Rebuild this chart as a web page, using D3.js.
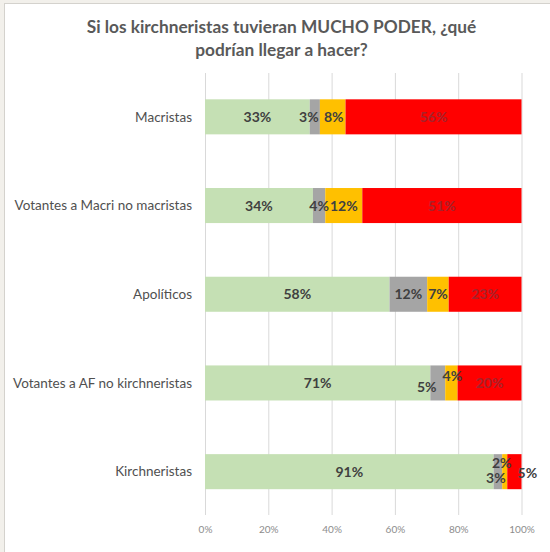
<!DOCTYPE html>
<html>
<head>
<meta charset="utf-8">
<script src="https://cdn.jsdelivr.net/npm/d3@7"></script>
<style>
  html, body { margin: 0; padding: 0; background: #fff; }
  svg { display: block; }
</style>
</head>
<body>
<svg id="chart" width="550" height="552"></svg>
<script>
// ---- Data ----
const categories = ["Macristas", "Votantes a Macri no macristas", "Apolíticos", "Votantes a AF no kirchneristas", "Kirchneristas"];
const seriesNames = ["s1", "s2", "s3", "s4"];
// segment shares
const series1 = [33.1, 34.1, 58.3, 71.2, 91.2];
const series2 = [3.2, 3.9, 11.9, 4.7, 2.7];
const series3 = [8.1, 11.7, 6.8, 3.9, 1.6];
const series4 = [55.6, 50.3, 23.0, 20.2, 4.5];
// data labels as printed
const labels1 = ["33%", "34%", "58%", "71%", "91%"];
const labels2 = ["3%", "4%", "12%", "5%", "3%"];
const labels3 = ["8%", "12%", "7%", "4%", "2%"];
const labels4 = ["56%", "51%", "23%", "20%", "5%"];
const tickValues = [0, 0.2, 0.4, 0.6, 0.8, 1.0];
const tickLabels = ["0%", "20%", "40%", "60%", "80%", "100%"];
const titleLines = ["Si los kirchneristas tuvieran MUCHO PODER, ¿qué", "podrían llegar a hacer?"];

// ---- Style ----
const colors = ["#c5e0b4", "#a5a5a5", "#ffc000", "#ff0000"];
const labelColors = ["#404040", "#404040", "#404040", "#a8222a"];
const FONT = "Lato, 'Open Sans', sans-serif";

const svg = d3.select("#chart");
const W = 550, H = 552;

// frame
svg.append("rect").attr("width", W).attr("height", H).attr("fill", "#f2f0eb");
svg.append("rect").attr("x", 4.5).attr("y", 3.5).attr("width", W).attr("height", H)
  .attr("fill", "#fff").attr("stroke", "#d4d2cd").attr("stroke-width", 1);

const rows = categories.map((c, i) => ({
  cat: c, s1: series1[i], s2: series2[i], s3: series3[i], s4: series4[i]
}));
const labelSets = [labels1, labels2, labels3, labels4];

const stack = d3.stack().keys(seriesNames).offset(d3.stackOffsetExpand);
const stacked = stack(rows);

const x = d3.scaleLinear().domain([0, 1]).range([205, 521.5]);
const y = d3.scaleBand().domain(categories).range([72.7, 515.8]).paddingInner(0.605).paddingOuter(0.3);

// gridlines via axis
const gridG = svg.append("g").attr("transform", "translate(0,73)");
gridG.call(d3.axisBottom(x).tickValues(tickValues).tickSize(442).tickFormat(""))
  .call(g => g.select(".domain").remove())
  .call(g => g.selectAll(".tick line").attr("stroke", "#d9d9d9").attr("stroke-width", 1));

// tick labels
const axG = svg.append("g").attr("transform", "translate(0,515)");
axG.call(d3.axisBottom(x).tickValues(tickValues).tickSize(0).tickPadding(8)
    .tickFormat((d, i) => tickLabels[i]))
  .call(g => g.select(".domain").remove())
  .call(g => g.selectAll("text").attr("fill", "#8c8c8c").attr("font-family", FONT)
    .attr("font-size", 10).attr("dy", "0.32em").attr("y", 15));

// bars
const layers = svg.append("g").selectAll("g").data(stacked).join("g")
  .attr("fill", (d, i) => colors[i]);
layers.selectAll("rect").data(d => d).join("rect")
  .attr("x", d => x(d[0]))
  .attr("width", d => x(d[1]) - x(d[0]))
  .attr("y", d => y(d.data.cat))
  .attr("height", y.bandwidth());

// label nudges (manual placement as in the reference)
const nudge = {
  "0|1": [-6, 0], "0|2": [1, 0],
  "3|1": [-11, 4], "3|2": [1, -7],
  "4|1": [-2, 6.5], "4|2": [-3, -9], "4|3": [13, 1.5]
};

stacked.forEach((layer, si) => {
  svg.append("g").selectAll("text").data(layer).join("text")
    .attr("x", (d, i) => (x(d[0]) + x(d[1])) / 2 + ((nudge[i + "|" + si] || [0, 0])[0]))
    .attr("y", (d, i) => y(d.data.cat) + y.bandwidth() / 2 + ((nudge[i + "|" + si] || [0, 0])[1]))
    .attr("dy", "0.36em")
    .attr("text-anchor", "middle")
    .attr("font-family", FONT).attr("font-weight", "bold").attr("font-size", 14)
    .attr("fill", (d, i) => (i === 4 && si === 3) ? "#404040" : labelColors[si])
    .text((d, i) => labelSets[si][i]);
});

// category labels
const catG = svg.append("g");
const catText = catG.selectAll("text").data(categories).join("text")
  .attr("x", 192)
  .attr("y", d => y(d) + y.bandwidth() / 2)
  .attr("dy", "0.35em")
  .attr("text-anchor", "end")
  .attr("font-family", FONT).attr("font-size", 13)
  .attr("fill", "#505050")
  .text(d => d);
// fit font size so the longest label spans the reference width
(function () {
  let maxW = 0;
  catText.each(function () { maxW = Math.max(maxW, this.getComputedTextLength()); });
  if (maxW > 0) catText.attr("font-size", 13 * 179 / maxW);
})();

// title
const titleText = svg.append("g").selectAll("text").data(titleLines).join("text")
  .attr("x", 281.5)
  .attr("y", (d, i) => [32.5, 55.5][i])
  .attr("text-anchor", "middle")
  .attr("font-family", FONT).attr("font-weight", "bold").attr("font-size", 18)
  .attr("fill", "#595959")
  .text(d => d);
(function () {
  const w = titleText.nodes()[0].getComputedTextLength();
  if (w > 0) titleText.attr("font-size", 18 * 390 / w);
})();
</script>
</body>
</html>
